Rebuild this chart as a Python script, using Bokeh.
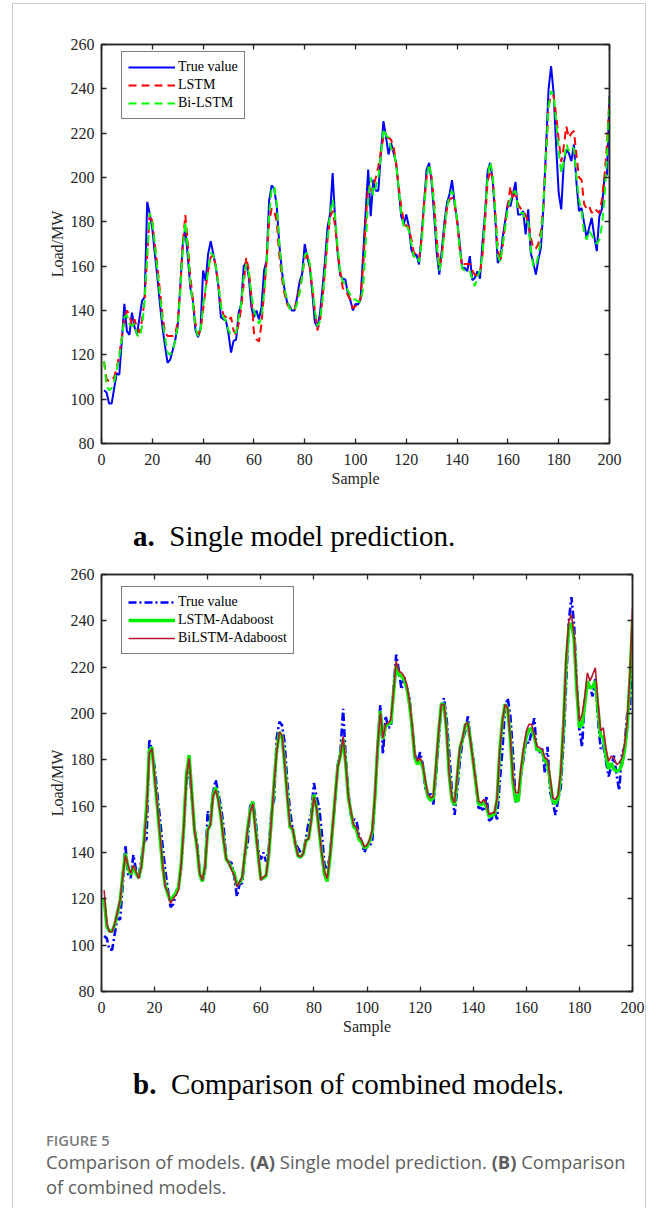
from bokeh.plotting import figure
from bokeh.models import Range1d, SingleIntervalTicker, LinearAxis, Legend, LegendItem, Div
from bokeh.layouts import column
from bokeh.embed import file_html
from bokeh.resources import INLINE

samples = list(range(1, 201))

true_value = [
    104, 103, 98, 98, 105, 111.6, 111, 126, 143, 130.7,
    129, 139, 132.5, 129.5, 137, 144.5, 146, 189, 183.6, 177,
    165.6, 155, 143, 132.5, 124, 116.4, 117.7, 122, 126.5, 133,
    150.5, 170, 177, 164, 150, 144.5, 131, 128, 131.7, 158,
    153.4, 165.6, 171.3, 165.6, 159.6, 151, 137, 136, 135.5, 129.5,
    121, 126.3, 126.8, 139, 143, 160, 161.8, 155, 141.5, 137,
    140, 136, 141.5, 158, 162.6, 189.6, 196.4, 195, 187, 170,
    158, 150, 144, 142, 140, 140, 146, 153, 156.5, 170,
    164, 159.6, 148, 134.7, 132.5, 138.5, 150, 162.6, 177.6, 183.6,
    202, 180.6, 165.6, 155.8, 154.3, 154, 147.5, 144.5, 140, 143,
    142.7, 145, 165, 184.5, 203.6, 182.5, 199, 194, 194, 211,
    225.4, 218.6, 210.4, 215.6, 211, 206.6, 194.6, 182.5, 178.8, 183.3,
    178, 167.5, 164.5, 165.3, 160.8, 173.5, 188.6, 203.6, 206.6, 197.6,
    182.5, 166, 156.2, 167.5, 179.5, 188.6, 192.3, 198.8, 188.6, 181,
    170.5, 159.2, 159.2, 157.7, 164.5, 153.7, 154.7, 157.7, 154.3, 170.5,
    184, 202.8, 206.6, 199, 182.5, 161.5, 163, 173.5, 181, 188.6,
    187, 192.3, 198, 183.3, 183.3, 184.8, 174.3, 185.6, 166, 161.5,
    156.2, 163, 168.3, 187, 212.6, 239.7, 250.2, 238.2, 214, 193,
    185.6, 206.6, 212.6, 211, 207.4, 214.9, 197.6, 184.8, 186.3, 179.5,
    172.8, 177.3, 181.8, 173.5, 166.8, 182.5, 185.6, 199.8, 201.4, 236.7,
]

lstm = [
    117, 109, 108, 108.5, 110, 114, 120, 128, 136, 140,
    138, 133, 136, 132, 130, 136, 145, 165, 184, 180,
    170, 160, 149, 138, 130, 128.5, 128.5, 128.5, 129, 135,
    150, 170, 183, 170, 155, 145, 134, 129, 131, 140,
    150, 158, 164, 165, 160, 152, 143, 138, 137, 135.5,
    137, 131, 129, 134, 141, 152, 164, 158, 147, 130,
    127, 126, 134, 148, 162, 180, 186, 185, 180, 165,
    155, 148, 143, 141, 141, 140, 145, 150, 156, 163,
    165, 160, 150, 140, 131, 135, 145, 158, 172, 182,
    185, 178, 166, 158, 150, 149, 147, 145, 141, 142,
    142, 146, 160, 180, 196, 194, 196, 200, 205, 212,
    218, 217, 218, 217, 214, 206, 196, 187, 180, 178,
    178, 172, 166, 165, 163, 172, 188, 200, 205, 200,
    188, 172, 160, 165, 176, 186, 190, 191, 188, 180,
    168, 160, 161, 161, 161, 158, 156, 156, 157, 165,
    180, 198, 203, 200, 185, 168, 162, 170, 180, 187,
    196, 190, 193, 188, 186, 185, 183, 180, 173, 168,
    168, 170, 176, 188, 210, 232, 237, 237, 228, 217,
    207, 214, 223, 218, 220, 221, 210, 200, 199, 188,
    186, 187, 184, 186, 185, 184, 190, 200, 215, 236,
]

bi_lstm = [
    117, 106, 104, 105, 108, 113, 119, 127, 137, 138,
    134, 133, 134, 129, 128, 133, 145, 165, 184, 180,
    170, 158, 147, 136, 128, 121, 120, 122, 126, 133,
    148, 168, 180, 168, 152, 143, 132, 128.5, 131, 142,
    150, 158, 166, 165, 160, 152, 142, 137, 135, 131,
    129, 130, 130, 137, 143, 155, 161, 157, 147, 140,
    137, 134, 137, 148, 162, 183, 195, 196, 188, 170,
    158, 150, 145, 141, 140, 140, 143, 148, 155, 165,
    166, 161, 151, 140, 133, 135, 145, 158, 172, 184,
    190, 182, 168, 157, 153, 152, 149, 147, 145, 145,
    144, 144, 150, 170, 190, 200, 192, 196, 200, 210,
    222, 219, 218, 213, 212, 206, 195, 184, 178, 179,
    176, 170, 164, 165, 162, 170, 185, 200, 206, 200,
    186, 170, 158, 163, 177, 186, 192, 194, 190, 181,
    168, 159, 158, 158, 158, 154, 151, 155, 158, 165,
    183, 200, 207, 202, 185, 165, 162, 170, 178, 186,
    190, 193, 194, 186, 184, 184, 180, 180, 168, 160,
    160, 165, 172, 188, 210, 232, 239, 237, 225, 212,
    202, 207, 215, 212, 214, 213, 200, 190, 185, 175,
    172, 176, 174, 172, 170, 172, 178, 190, 210, 236,
]

lstm_adaboost = [
    120, 108, 106, 106, 109, 114, 119, 130, 139.5, 133.5,
    130.5, 134, 131, 129, 134, 145, 160, 184, 185.5, 172,
    160, 147, 134, 126, 122, 119, 121, 122.5, 125, 135,
    152, 174, 182, 166, 150, 142, 130.5, 127.5, 134, 150,
    152, 165, 168, 163, 155, 145, 137, 135.5, 133, 131,
    126, 127, 129, 139, 150, 158, 162, 150, 139, 128.5,
    129, 130, 139, 154, 170, 184, 192, 190, 178, 164,
    151, 150, 143.5, 138.5, 138, 139.5, 145, 146, 154, 165,
    159.5, 149, 139, 130.5, 127.5, 137, 150, 164, 177, 182,
    189, 178, 163.5, 157, 151, 150, 145.5, 144.5, 142, 142.5,
    145, 149, 164, 185, 201, 189, 194.5, 195.5, 196, 209,
    221, 217, 216, 214.5, 211, 204, 194, 181, 178, 180,
    177, 170, 164, 162.5, 163.5, 177, 192, 204, 204, 192,
    173, 162.5, 160.5, 173, 185, 189, 195, 196, 188, 179,
    170, 161, 160.5, 162, 159.5, 155.5, 156, 156.5, 163, 184,
    197, 204, 202, 188.5, 170, 162, 162.5, 175, 184, 190,
    193, 193.5, 190, 184.5, 184, 183.5, 179.5, 178.5, 170.5, 162,
    161, 163.5, 174, 195, 222, 237, 239, 232, 210, 194,
    195, 204, 214, 211, 211.5, 214, 202, 190, 190, 181.5,
    176, 178.5, 176, 175, 175.5, 178, 184, 194, 214, 240,
]

bilstm_adaboost = [
    123.7, 109.4, 105.8, 105.8, 109.4, 114.4, 119.4, 129.5, 138.8, 134.5,
    131, 134.5, 131.7, 128.8, 133.8, 144, 158, 182.7, 185, 172.7,
    161, 148.2, 135.3, 125.2, 123, 118, 120, 121.6, 123.7, 134.5,
    151, 172.7, 180.6, 165.5, 149.6, 142.4, 131, 128, 133.8, 149.6,
    151.8, 164, 167, 162.6, 155.4, 145.3, 137.4, 135.3, 132.4, 130.2,
    125.2, 127.3, 129.5, 139.6, 149.6, 157.5, 161, 149.6, 139.6, 128,
    129.5, 130.2, 139.6, 154, 169.8, 183.5, 192, 190.6, 178.4, 164,
    151.8, 150.4, 144, 138.8, 138.1, 139.6, 145.3, 146, 154, 164,
    159, 149.6, 139.6, 131.7, 128.8, 138.1, 150.4, 164, 177, 182,
    190, 178.4, 164, 157.5, 151.8, 151, 146.8, 145.3, 142.4, 143.2,
    145.5, 150, 165, 186, 200.3, 189.5, 195.3, 196, 197.4, 209.6,
    222.6, 218.3, 217.6, 216, 212.5, 205.3, 195.3, 182.3, 179.4, 180.9,
    178, 170.8, 165, 163.6, 164.3, 178, 192.4, 203.9, 203.9, 192.4,
    173.7, 163.6, 161.4, 173.7, 185.2, 189.5, 195.3, 196, 188, 179.4,
    170.8, 162.2, 161.4, 162.9, 160.7, 156.4, 157.1, 157.1, 163.6, 183.7,
    196.7, 203.9, 202.4, 189.5, 172.2, 165.8, 165.8, 176.5, 185.2, 192.4,
    195.3, 195.3, 191, 185.9, 185.2, 184.5, 180.9, 180.1, 172.2, 163.6,
    162.9, 165, 175.1, 195.3, 224, 239.9, 242.7, 234.1, 212.5, 196.7,
    199.6, 206.8, 217.6, 214, 216.8, 219.7, 205.3, 192.4, 193.8, 185.2,
    179.4, 181.6, 180.9, 178, 178.7, 180.9, 186.6, 196.7, 216.8, 245.6,
]

x_ticks_interval = 20
y_ticks_interval = 20

SERIF = "Liberation Serif"
AX = "#262626"
CONTENT_W = 632
LEG_H = 66


def make_fig(fw, fh, left, top, bottom):
    right = CONTENT_W - left - fw
    p = figure(width=CONTENT_W, height=top + fh + bottom,
               frame_width=fw, frame_height=fh,
               x_range=Range1d(0, 200), y_range=Range1d(80, 260),
               output_backend="svg", toolbar_location=None,
               min_border_left=left, min_border_right=right,
               min_border_top=top, min_border_bottom=bottom,
               x_axis_label="Sample", y_axis_label="Load/MW")
    p.xgrid.visible = False
    p.ygrid.visible = False
    p.outline_line_color = AX
    p.outline_line_width = 1.5
    p.background_fill_color = "white"
    p.border_fill_color = "white"
    p.xaxis.ticker = SingleIntervalTicker(interval=x_ticks_interval)
    p.yaxis.ticker = SingleIntervalTicker(interval=y_ticks_interval)
    for ax in (p.xaxis[0], p.yaxis[0]):
        ax.major_tick_in = 5
        ax.major_tick_out = 0
        ax.minor_tick_line_color = None
        ax.axis_line_color = AX
        ax.axis_line_width = 1.5
        ax.major_tick_line_color = AX
        ax.major_tick_line_width = 1.3
        ax.major_label_text_font = SERIF
        ax.major_label_text_font_size = "16px"
        ax.major_label_text_color = AX
        ax.axis_label_text_font = SERIF
        ax.axis_label_text_font_style = "normal"
        ax.axis_label_text_font_size = "16px"
        ax.axis_label_text_color = AX
    p.xaxis.major_label_standoff = 6
    p.xaxis.axis_label_standoff = 2
    p.yaxis.major_label_standoff = 3
    p.yaxis.axis_label_standoff = 2
    for loc, interval in (("above", x_ticks_interval), ("right", y_ticks_interval)):
        ax = LinearAxis(ticker=SingleIntervalTicker(interval=interval))
        ax.major_tick_in = 5
        ax.major_tick_out = 0
        ax.minor_tick_line_color = None
        ax.axis_line_color = AX
        ax.axis_line_width = 1.5
        ax.major_tick_line_color = AX
        ax.major_tick_line_width = 1.3
        ax.major_label_text_font_size = "7px"
        ax.major_label_text_color = None
        ax.major_label_standoff = 0
        p.add_layout(ax, loc)
    return p


# ---- Figure a ----
fh1 = 399
p1 = make_fig(508, fh1, 88, 40, 57)
r_true1 = p1.line(samples, true_value, line_color="#0000FF", line_width=2)
r_lstm = p1.line(samples, lstm, line_color="#FF0000", line_width=2, line_dash="8 5")
r_bi = p1.line(samples, bi_lstm, line_color="#00FF00", line_width=2, line_dash="8 5")
leg1 = Legend(items=[LegendItem(label="True value", renderers=[r_true1]),
                     LegendItem(label="LSTM", renderers=[r_lstm]),
                     LegendItem(label="Bi-LSTM", renderers=[r_bi])],
              location=(20, fh1 - 9 - LEG_H))
p1.add_layout(leg1)

# ---- Figure b ----
fh2 = 417
p2 = make_fig(531, fh2, 77, 14, 49)
r_true2 = p2.line(samples, true_value, line_color="#0000FF", line_width=2.6, line_dash="8 3 2 3")
r_la = p2.line(samples, lstm_adaboost, line_color="#00EE00", line_width=3.4)
r_ba = p2.line(samples, bilstm_adaboost, line_color="#B5172F", line_width=1.6)
leg2 = Legend(items=[LegendItem(label="True value", renderers=[r_true2]),
                     LegendItem(label="LSTM-Adaboost", renderers=[r_la]),
                     LegendItem(label="BiLSTM-Adaboost", renderers=[r_ba])],
              location=(20, fh2 - 14 - LEG_H))
p2.add_layout(leg2)

for lg in (leg1, leg2):
    lg.label_text_font = SERIF
    lg.label_text_font_size = "14px"
    lg.label_text_color = "black"
    lg.border_line_color = "black"
    lg.border_line_width = 1.5
    lg.padding = 6
    lg.spacing = 0
    lg.label_height = 18
    lg.glyph_height = 18
    lg.glyph_width = 47
    lg.label_standoff = 3
    lg.margin = 0
    lg.background_fill_alpha = 1

cap_style = ("position:relative; left:120px; top:{top}px; font-family:'Liberation Serif'; "
             "font-size:29px; line-height:29px; color:#000; white-space:nowrap;")
div_a = Div(text='<div style="' + cap_style.format(top=22) + '"><b>a.</b>&nbsp; Single model prediction.</div>',
            width=CONTENT_W, height=60, margin=0)
div_b = Div(text='<div style="' + cap_style.format(top=30) + '"><b>b.</b>&nbsp; Comparison of combined models.</div>',
            width=CONTENT_W, height=80, margin=0)
div_c = Div(text=(
    '<div style="position:relative; left:33px; top:10px; font-family:\'Open Sans\'; white-space:nowrap;">'
    '<div style="font-size:14.7px; line-height:21px; font-weight:600; color:#7a7a7a;">FIGURE 5</div>'
    '<div style="font-size:18.4px; line-height:25px; color:#5e5e5e; margin-top:-2px;">'
    'Comparison of models. <b>(A)</b> Single model prediction. <b>(B)</b> Comparison<br>'
    'of combined models.</div></div>'),
    width=CONTENT_W, height=88, margin=0)

layout = column(p1, div_a, p2, div_b, div_c, margin=(3, 0, 0, 12),
                styles={"border-top": "1px solid #cccccc",
                        "border-left": "1px solid #cccccc",
                        "border-right": "1px solid #cccccc"})

open("out.html", "w").write(file_html(layout, INLINE))
